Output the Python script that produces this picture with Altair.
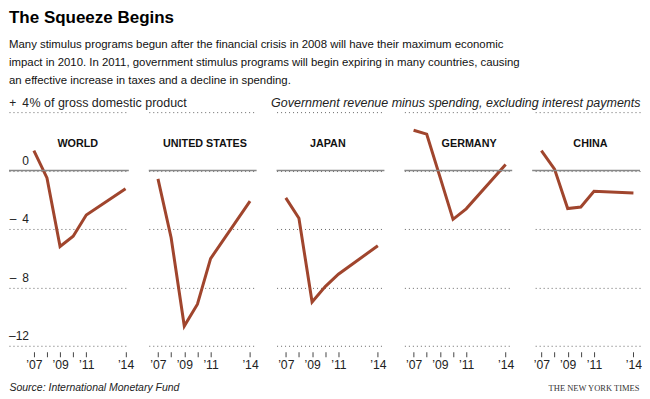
import altair as alt
import pandas as pd

# ---- data ----
YEARS = [2007, 2008, 2009, 2010, 2011, 2014]
PANELS = ["WORLD", "UNITED STATES", "JAPAN", "GERMANY", "CHINA"]
world = [1.36, -0.5, -5.2, -4.5, -3.05, -1.24]
united_states = [-0.57, -4.6, -10.65, -9.15, -6.03, -2.1]
japan = [-1.87, -3.27, -9.0, -7.95, -7.1, -5.15]
germany = [2.76, 2.49, -0.42, -3.34, -2.62, 0.41]
china = [1.36, 0.1, -2.6, -2.5, -1.42, -1.54]
SERIES = [world, united_states, japan, germany, china]

TICK_YEARS = [2007, 2008, 2009, 2010, 2011, 2014]
LABEL_YEARS = [2007, 2009, 2011, 2014]
X_LABELS = ["\u201907", "\u201909", "\u201911", "\u201914"]
Y_TICKS = [4, 0, -4, -8, -12]
Y_LABELS = ["+\u20024", "0", "\u2013\u20024", "\u2013\u20028", "\u201312"]

TITLE = "The Squeeze Begins"
SUBTITLE = [
    "Many stimulus programs begun after the financial crisis in 2008 will have their maximum economic",
    "impact in 2010. In 2011, government stimulus programs will begin expiring in many countries, causing",
    "an effective increase in taxes and a decline in spending.",
]
Y_TITLE = "% of gross domestic product"
NOTE = "Government revenue minus spending, excluding interest payments"
SOURCE = "Source: International Monetary Fund"
CREDIT = "THE NEW YORK TIMES"

SANS = "Liberation Sans"
LINE_COLOR = "#A0452D"
H = 234


def ternary(values, labels):
    expr = "''"
    for v, l in reversed(list(zip(values, labels))):
        expr = f"datum.value == {v} ? '{l}' : ({expr})"
    return expr


X_EXPR = ternary(LABEL_YEARS, X_LABELS)
Y_EXPR = ternary(Y_TICKS, Y_LABELS)


def panel(i, width, x0, x1, title_dx):
    name = PANELS[i]
    df = pd.DataFrame({"year": YEARS, "value": SERIES[i]})
    first = i == 0
    last = i == len(PANELS) - 1

    xaxis = dict(
        values=TICK_YEARS, tickCount=20, labelExpr=X_EXPR, offset=6, tickSize=5, tickWidth=1,
        tickColor="#444", domain=False, grid=False, labelPadding=2,
        labelFont=SANS, labelFontSize=12.2, labelColor="#222",
        labelFlush=False, labelOverlap=False,
    )
    if first:
        xaxis.update(title=SOURCE, titleX=0, titleY=39, titleAlign="left",
                     titleBaseline="alphabetic", titleFont=SANS, titleFontSize=10.5,
                     titleFontStyle="italic", titleFontWeight="normal", titleColor="#222")
    elif last:
        xaxis.update(title=CREDIT, titleX=width - 1, titleY=39, titleAlign="right",
                     titleBaseline="alphabetic", titleFont="Liberation Serif", titleFontSize=8.5,
                     titleFontWeight="normal", titleColor="#333")
    else:
        xaxis.update(title=None)

    yaxis = dict(values=Y_TICKS, domain=False, ticks=False, tickSize=0, grid=True,
                 gridDash=[1, 3], gridColor="#666", gridWidth=1)
    if first:
        yaxis.update(labelExpr=Y_EXPR, labelAlign="right", labelPadding=-19.5,
                     labelBaseline="alphabetic", labelOffset=-6, labelFont=SANS,
                     labelFontSize=12, labelColor="#222",
                     title=Y_TITLE, titleAngle=0, titleAlign="left", titleBaseline="alphabetic",
                     titleX=20, titleY=-6, titleFont=SANS, titleFontSize=12.5,
                     titleFontWeight="normal", titleColor="#222")
    elif last:
        yaxis.update(orient="right", labels=False,
                     title=NOTE, titleAngle=0, titleAlign="right", titleBaseline="alphabetic",
                     titleX=0, titleY=-6, titleFont=SANS, titleFontSize=12.5,
                     titleFontStyle="italic", titleFontWeight="normal", titleColor="#222")
    else:
        yaxis.update(labels=False, title=None)

    xs = alt.Scale(domain=[x0, x1], nice=False, zero=False)
    ys = alt.Scale(domain=[-12, 4], nice=False, zero=False)

    line = alt.Chart(df).mark_line(color=LINE_COLOR, strokeWidth=3, strokeJoin="miter").encode(
        x=alt.X("year:Q", scale=xs, axis=alt.Axis(**xaxis)),
        y=alt.Y("value:Q", scale=ys, axis=alt.Axis(**yaxis)),
    )
    zero = alt.Chart(pd.DataFrame({"v": [0]})).mark_rule(color="#888", strokeWidth=1.5).encode(
        y=alt.Y("v:Q", scale=ys)
    )
    label = alt.Chart(pd.DataFrame({"t": [name], "x": [2010.5]})).mark_text(
        font=SANS, fontSize=10.8, fontWeight="bold", color="#111", baseline="middle",
        align="center", dx=title_dx,
    ).encode(x=alt.X("x:Q", scale=xs), y=alt.value(32), text="t:N")
    return alt.layer(line, zero, label).properties(width=width, height=H)


charts = [
    panel(0, 120, 2005.1, 2014.25, -2),
    panel(1, 108, 2006.3, 2014.5, 1),
    panel(2, 108, 2006.3, 2014.5, -4),
    panel(3, 108, 2006.3, 2014.5, 9.5),
    panel(4, 108, 2006.3, 2014.5, 3),
]

chart = alt.hconcat(*charts, spacing=20, bounds="flush").properties(
    title=alt.TitleParams(
        text=TITLE, subtitle=SUBTITLE, anchor="start", frame="group",
        font=SANS, fontSize=17, fontWeight="bold", color="#000",
        subtitleFont=SANS, subtitleFontSize=11.4, subtitleColor="#111",
        subtitleLineHeight=18, subtitlePadding=12, offset=9,
    ),
    padding=0,
    background="white",
).configure_view(strokeWidth=0, stroke=None)

chart.save("out.html", embed_options={"renderer": "svg", "actions": False})
